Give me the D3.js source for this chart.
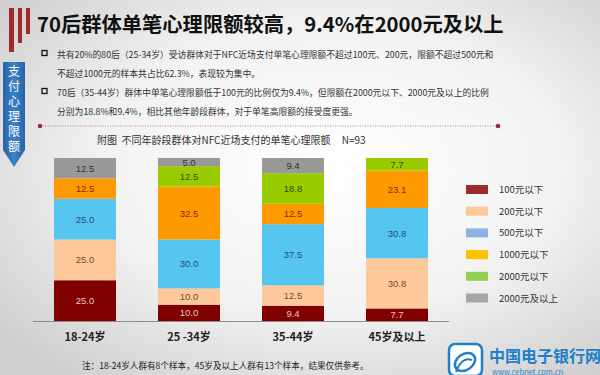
<!DOCTYPE html>
<html>
<head>
<meta charset="utf-8">
<script src="https://cdn.jsdelivr.net/npm/d3@7"></script>
<style>
  html, body { margin: 0; padding: 0; }
  svg { display: block; font-family: "Noto Sans CJK SC", "Noto Sans", sans-serif; }
</style>
</head>
<body>
<svg width="600" height="375"></svg>
<script>
const ageGroups = ["18-24岁", "25 -34岁", "35-44岁", "45岁及以上"];
const seriesNames = ["100元以下", "200元以下", "500元以下", "1000元以下", "2000元以下", "2000元及以上"];
const under100 = [25.0, 10.0, 9.4, 7.7];
const under200 = [25.0, 10.0, 12.5, 30.8];
const under500 = [25.0, 30.0, 37.5, 30.8];
const under1000 = [12.5, 32.5, 12.5, 23.1];
const under2000 = [0, 12.5, 18.8, 7.7];
const over2000 = [12.5, 5.0, 9.4, 0];
const seriesValues = [under100, under200, under500, under1000, under2000, over2000];

const barColors = ["#800000", "#fdc99b", "#56c5f0", "#ff9900", "#99cc00", "#999999"];
const legendColors = ["#9b2b2d", "#fdc99b", "#8db3e2", "#ffc000", "#92d050", "#a6a6a6"];
const labelColors = ["#e6c8c8", "#7a4a22", "#1f4e79", "#8b2a00", "#3b4a00", "#333333"];

const title = "70后群体单笔心理限额较高，9.4%在2000元及以上";
const bullets = [
  ["共有20%的80后（25-34岁）受访群体对于NFC近场支付单笔心理限额不超过100元、200元，限额不超过500元和",
   "不超过1000元的样本共占比62.3%，表现较为集中。"],
  ["70后（35-44岁）群体中单笔心理限额低于100元的比例仅为9.4%，但限额在2000元以下、2000元及以上的比例",
   "分别为18.8%和9.4%，相比其他年龄段群体，对于单笔高限额的接受度更强。"]
];
const chartTitle = "附图  不同年龄段群体对NFC近场支付的单笔心理限额     N=93";
const note = "注：18-24岁人群有8个样本，45岁及以上人群有13个样本，结果仅供参考。";

const svg = d3.select("svg");
const defs = svg.append("defs");

// background
const bg = defs.append("radialGradient").attr("id", "bg")
    .attr("cx", "55%").attr("cy", "45%").attr("r", "70%");
bg.append("stop").attr("offset", "0%").attr("stop-color", "#ffffff");
bg.append("stop").attr("offset", "55%").attr("stop-color", "#f2f2f2");
bg.append("stop").attr("offset", "100%").attr("stop-color", "#cfcfcf");
svg.append("rect").attr("width", 600).attr("height", 375).attr("fill", "url(#bg)");

// red marks top-left
[[9, 5, 44], [18, 5, 35], [26, 5, 26]].forEach(([x, y, h], i) => {
  svg.append("rect").attr("x", x).attr("y", y + 3).attr("width", i === 0 ? 5 : 4).attr("height", h)
      .attr("fill", "#a3282e");
});

// blue ribbon
const rib = defs.append("linearGradient").attr("id", "rib").attr("x1", 0).attr("x2", 1);
rib.append("stop").attr("offset", "0%").attr("stop-color", "#2a63a8");
rib.append("stop").attr("offset", "50%").attr("stop-color", "#3b82c8");
rib.append("stop").attr("offset", "100%").attr("stop-color", "#2a63a8");
svg.append("path").attr("d", "M3,62 L25,62 L25,150 L14,167 L3,150 Z").attr("fill", "url(#rib)");
svg.append("text").attr("x", 14).attr("y", 65)
    .style("writing-mode", "vertical-rl")
    .attr("font-size", 12).attr("letter-spacing", 3).attr("fill", "#ffffff")
    .text("支付心理限额");

// title
svg.append("text").attr("x", 37).attr("y", 32)
    .attr("font-size", 20.3).attr("font-weight", "bold").attr("fill", "#111").text(title);

// bullets
bullets.forEach((lines, i) => {
  const y0 = 58 + i * 38;
  svg.append("rect").attr("x", 42).attr("y", y0 - 7.5).attr("width", 5).attr("height", 5)
      .attr("fill", "none").attr("stroke", "#111").attr("stroke-width", 1.3);
  lines.forEach((t, j) => {
    svg.append("text").attr("x", 57).attr("y", y0 + j * 19)
        .attr("font-size", 8.8).attr("fill", "#333").text(t);
  });
});

// dotted divider
svg.append("line").attr("x1", 40).attr("x2", 498).attr("y1", 126).attr("y2", 126)
    .attr("stroke", "#b86a6e").attr("stroke-width", 0.8).attr("stroke-dasharray", "1,1.5");
[40, 498].forEach(x => svg.append("circle").attr("cx", x).attr("cy", 126).attr("r", 2.3).attr("fill", "#9b2b35"));

// chart title
svg.append("text").attr("x", 97).attr("y", 144)
    .attr("font-size", 10).attr("fill", "#333").attr("xml:space", "preserve").text(chartTitle);

// scales
const x = d3.scaleBand()
    .domain(ageGroups)
    .range([33, 449])
    .paddingInner(0.404)
    .paddingOuter(0.202);

const y = d3.scaleLinear()
    .domain([0, 100])
    .range([321, 158]);

const table = ageGroups.map((g, i) => {
  const row = { group: g };
  seriesNames.forEach((s, k) => { row[s] = seriesValues[k][i]; });
  return row;
});
const stacked = d3.stack().keys(seriesNames)(table);

const layers = svg.append("g").selectAll("g")
    .data(stacked)
    .join("g")
    .attr("fill", (d, k) => barColors[k]);

layers.selectAll("rect")
    .data(d => d.filter(p => p[1] - p[0] > 0))
    .join("rect")
    .attr("x", d => x(d.data.group))
    .attr("width", x.bandwidth())
    .attr("y", d => y(Math.min(d[1], 100)))
    .attr("height", d => y(d[0]) - y(Math.min(d[1], 100)));

stacked.forEach((layer, k) => {
  svg.append("g").selectAll("text")
      .data(layer.filter(p => p[1] - p[0] > 0))
      .join("text")
      .attr("x", d => x(d.data.group) + x.bandwidth() / 2)
      .attr("y", d => (y(d[0]) + y(Math.min(d[1], 100))) / 2 + 3.5)
      .attr("text-anchor", "middle")
      .attr("font-size", 9.5)
      .attr("font-family", "Liberation Sans, Arial, sans-serif")
      .attr("fill", labelColors[k])
      .text(d => (d[1] - d[0]).toFixed(1));
});

// x axis
const xAxis = d3.axisBottom(x).tickSize(0).tickPadding(12);
const axisG = svg.append("g").attr("transform", "translate(0,321)").call(xAxis);
axisG.select(".domain").attr("stroke", "#8c8c8c").attr("d", "M33,0.5H449");
axisG.selectAll("text")
    .attr("font-size", 11).attr("font-weight", "bold").attr("fill", "#222")
    .attr("font-family", "Noto Sans CJK SC, sans-serif")
    .attr("xml:space", "preserve");

// legend
const legend = svg.append("g").selectAll("g")
    .data(seriesNames)
    .join("g")
    .attr("transform", (d, i) => `translate(466, ${185 + i * 21.7})`);
legend.append("rect").attr("width", 22).attr("height", 9).attr("fill", (d, i) => legendColors[i]);
legend.append("text").attr("x", 33).attr("y", 8).attr("font-size", 9.5).attr("fill", "#333").text(d => d);

// note
svg.append("text").attr("x", 82).attr("y", 369)
    .attr("font-size", 8.6).attr("fill", "#222").text(note);

// site logo
const logo = svg.append("g");
logo.append("rect").attr("x", 449).attr("y", 344).attr("width", 33).attr("height", 32).attr("rx", 6)
    .attr("fill", "#fff").attr("stroke", "#1f7fc8").attr("stroke-width", 2.5);
logo.append("ellipse").attr("cx", 465).attr("cy", 362).attr("rx", 11).attr("ry", 8)
    .attr("transform", "rotate(-35,465,362)")
    .attr("fill", "none").attr("stroke", "#1f7fc8").attr("stroke-width", 2.5);
logo.append("path").attr("d", "M456,372 Q462,356 472,360").attr("fill", "none")
    .attr("stroke", "#1f7fc8").attr("stroke-width", 2);
logo.append("text").attr("x", 489).attr("y", 362).attr("font-size", 16).attr("font-weight", "bold")
    .attr("fill", "#1f7fc8").text("中国电子银行网");
logo.append("text").attr("x", 492).attr("y", 374.5).attr("font-size", 7.5)
    .attr("fill", "#1f7fc8").text("www.cebnet.com.cn");
</script>
</body>
</html>
